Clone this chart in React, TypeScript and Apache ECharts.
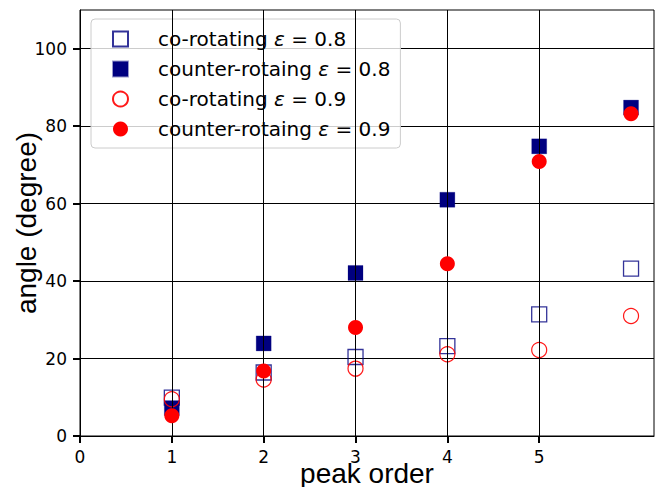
import React, { useEffect, useRef } from "react";
import * as echarts from "echarts";

const peakOrder = [1, 2, 3, 4, 5, 6];
const coRot08 = [9.9, 16.4, 20.4, 23.2, 31.4, 43.2];
const counterRot08 = [7.2, 23.9, 42.1, 61.0, 74.8, 84.8];
const coRot09 = [9.5, 14.6, 17.4, 21.1, 22.2, 31.0];
const counterRot09 = [5.2, 16.8, 28.0, 44.5, 70.9, 83.2];

const seriesNames = [
  "co-rotating ε = 0.8",
  "counter-rotaing ε = 0.8",
  "co-rotating ε = 0.9",
  "counter-rotaing ε = 0.9",
];
const xTicks = [0, 1, 2, 3, 4, 5];
const xGridLines = [1, 2, 3, 4, 5];
const yTicks = [0, 20, 40, 60, 80, 100];

const NAVY = "#000080";
const RED = "#ff0000";
const TICK_FONT = "DejaVu Sans";
const NAME_FONT = "Liberation Sans";

const pairs = (ys: number[]) => peakOrder.map((x, i) => [x, ys[i]]);

const tickLabelStyle = {
  fontFamily: TICK_FONT,
  fontSize: 17,
  color: "#000",
};

export default function App() {
  const ref = useRef<HTMLDivElement>(null);
  useEffect(() => {
    document.body.style.margin = "0";
    if (!ref.current) return;
    const chart = echarts.init(ref.current, null, { renderer: "svg" });
    chart.setOption({
      animation: false,
      backgroundColor: "#ffffff",
      textStyle: { fontFamily: TICK_FONT, fontSize: 17, color: "#000" },
      grid: {
        left: 80,
        top: 10,
        right: 2,
        bottom: 51,
        containLabel: false,
        outerBoundsMode: "none",
        show: true,
        borderColor: "#000",
        borderWidth: 1,
        backgroundColor: "transparent",
      },
      legend: {
        data: seriesNames,
        orient: "vertical",
        left: 91,
        top: 19,
        padding: [9, 10, 8, 21],
        itemGap: 8,
        itemWidth: 15,
        itemHeight: 15,
        backgroundColor: "rgba(255,255,255,0.8)",
        borderColor: "#cccccc",
        borderWidth: 1,
        borderRadius: 4,
        formatter: (name: string) => name.replace("ε", "{e|ε}"),
        textStyle: {
          fontFamily: TICK_FONT,
          fontSize: 20,
          lineHeight: 22,
          color: "#000",
          padding: [0, 0, 0, 25],
          rich: {
            e: {
              fontFamily: TICK_FONT,
              fontSize: 20,
              lineHeight: 22,
              fontStyle: "italic",
              color: "#000",
            },
          },
        },
      },
      xAxis: {
        type: "value",
        min: 0,
        max: 6.25,
        interval: 1,
        name: "peak order",
        nameLocation: "middle",
        nameGap: 23,
        nameMoveOverlap: false,
        nameTextStyle: { fontFamily: NAME_FONT, fontSize: 28, lineHeight: 28, color: "#000" },
        axisLine: { show: true, onZero: false, lineStyle: { color: "#000", width: 1 } },
        axisTick: {
          show: true,
          inside: false,
          length: 7,
          customValues: xTicks,
          lineStyle: { color: "#000", width: 2 },
        },
        axisLabel: {
          margin: 12,
          ...tickLabelStyle,
          formatter: (v: number) => (v <= 5 ? String(v) : ""),
        },
        splitLine: { show: false },
      },
      yAxis: {
        type: "value",
        min: 0,
        max: 110,
        interval: 20,
        name: "angle (degree)",
        nameLocation: "middle",
        nameGap: 40,
        nameMoveOverlap: false,
        nameTextStyle: { fontFamily: NAME_FONT, fontSize: 28, lineHeight: 28, color: "#000" },
        axisLine: { show: true, onZero: false, lineStyle: { color: "#000", width: 1 } },
        axisTick: {
          show: true,
          inside: false,
          length: 7,
          customValues: yTicks,
          lineStyle: { color: "#000", width: 2 },
        },
        axisLabel: {
          margin: 13,
          ...tickLabelStyle,
          formatter: (v: number) => (v <= 100 ? String(v) : ""),
        },
        splitLine: { show: true, lineStyle: { color: "#000", width: 1 } },
      },
      series: [
        {
          name: "gridlines",
          type: "scatter",
          data: [],
          z: 1,
          silent: true,
          markLine: {
            silent: true,
            symbol: ["none", "none"],
            label: { show: false },
            lineStyle: { color: "#000", width: 1, type: "solid" },
            data: xGridLines.map((v) => ({ xAxis: v })),
          },
        },
        {
          name: seriesNames[0],
          type: "scatter",
          symbol: "rect",
          symbolSize: 15,
          data: pairs(coRot08),
          z: 2,
          itemStyle: {
            color: "rgba(255,255,255,0)",
            borderColor: "rgba(0,0,128,0.8)",
            borderWidth: 1.3,
            opacity: 1,
          },
        },
        {
          name: seriesNames[1],
          type: "scatter",
          symbol: "rect",
          symbolSize: 15,
          data: pairs(counterRot08),
          z: 3,
          itemStyle: { color: NAVY, borderColor: "rgba(0,0,128,0.4)", borderWidth: 0.6, opacity: 1 },
        },
        {
          name: seriesNames[2],
          type: "scatter",
          symbol: "circle",
          symbolSize: 15,
          data: pairs(coRot09),
          z: 4,
          itemStyle: {
            color: "rgba(255,255,255,0)",
            borderColor: "rgba(255,0,0,0.9)",
            borderWidth: 1.2,
            opacity: 1,
          },
        },
        {
          name: seriesNames[3],
          type: "scatter",
          symbol: "circle",
          symbolSize: 15,
          data: pairs(counterRot09),
          z: 5,
          itemStyle: { color: RED, opacity: 1 },
        },
      ],
    });
    return () => chart.dispose();
  }, []);
  return <div ref={ref} style={{ width: 656, height: 487 }} />;
}
